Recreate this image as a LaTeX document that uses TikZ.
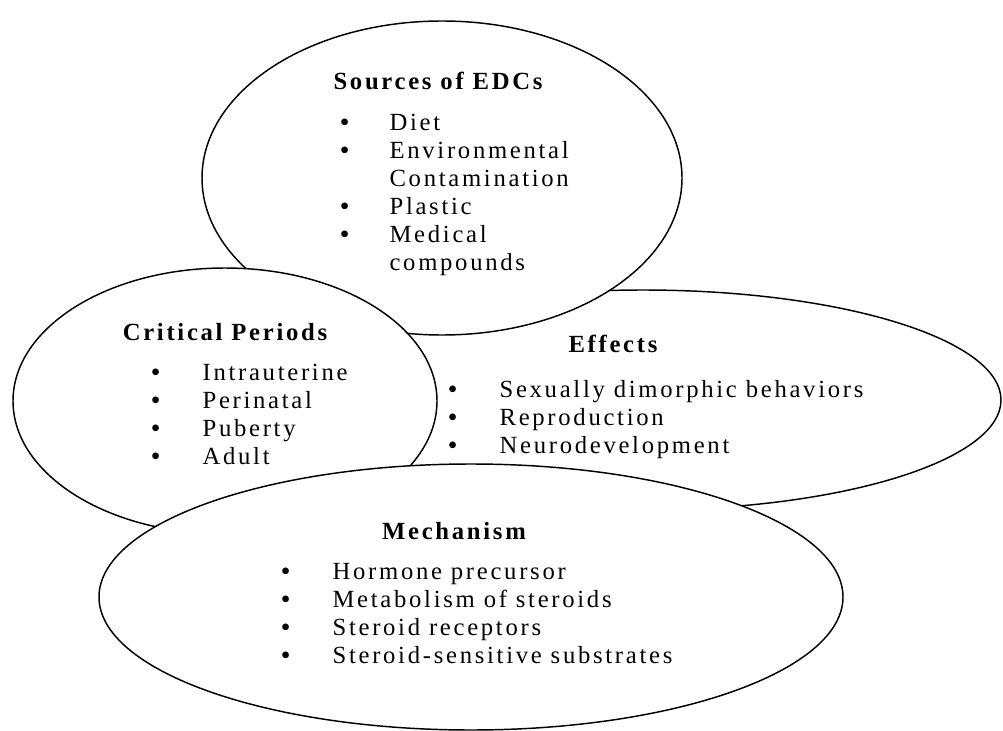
\documentclass[tikz,border=0pt]{standalone}
\usepackage{fontspec}
\setmainfont{Liberation Serif}[LetterSpace=11]
\usetikzlibrary{shapes.geometric}

\newcommand{\diagfont}{\fontsize{18.5pt}{21pt}\selectfont}
\newcommand{\bigbul}{\textbf{\textbullet}}
\tikzset{
  bubble/.style={ellipse,draw=black,fill=white,line width=1.1pt,inner sep=0pt},
  heading/.style={font=\diagfont\bfseries,anchor=base,inner sep=0pt},
  itemlist/.style={font=\diagfont,anchor=base west,inner sep=0pt}
}

\begin{document}
\begin{tikzpicture}[x=0.75pt,y=-0.75pt]
    \useasboundingbox (0,0) rectangle (1003,731);
    % Ellissi (dal fondo verso l'alto)
    \node[bubble,minimum width=537pt,minimum height=165pt] (effects) at (643,400) {};
    \node[bubble,minimum width=360pt,minimum height=235.5pt] (sources) at (442,178) {};
    \node[bubble,minimum width=318pt,minimum height=199.5pt] (critical) at (225,401) {};
    \node[bubble,minimum width=558pt,minimum height=199.5pt] (mechanism) at (471,597) {};

    % Sources of EDCs
    \node[heading] (sourcestitle) at (438,90) {Sources of EDCs};
    \node[itemlist] (sourceslist) at (340,131) {
        \begin{tabular}[t]{@{}p{37pt}@{}l@{}}
        \bigbul & Diet \\
        \bigbul & Environmental \\
                & Contamination \\
        \bigbul & Plastic \\
        \bigbul & Medical \\
                & compounds
        \end{tabular}
    };

    % Critical Periods
    \node[heading] (criticaltitle) at (225,340) {Critical Periods};
    \node[itemlist] (criticallist) at (151,380) {
        \begin{tabular}[t]{@{}p{38.5pt}@{}l@{}}
        \bigbul & Intrauterine \\
        \bigbul & Perinatal \\
        \bigbul & Puberty \\
        \bigbul & Adult
        \end{tabular}
    };

    % Effects
    \node[heading] (effectstitle) at (613,352) {Effects};
    \node[itemlist] (effectslist) at (448,397) {
        \begin{tabular}[t]{@{}p{38.5pt}@{}l@{}}
        \bigbul & Sexually dimorphic behaviors \\
        \bigbul & Reproduction \\
        \bigbul & Neurodevelopment
        \end{tabular}
    };

    % Mechanism
    \node[heading] (mechanismtitle) at (454,539) {Mechanism};
    \node[itemlist] (mechanismlist) at (281,579) {
        \begin{tabular}[t]{@{}p{38.5pt}@{}l@{}}
        \bigbul & Hormone precursor \\
        \bigbul & Metabolism of steroids \\
        \bigbul & Steroid receptors \\
        \bigbul & Steroid-sensitive substrates
        \end{tabular}
    };
\end{tikzpicture}
\end{document}
